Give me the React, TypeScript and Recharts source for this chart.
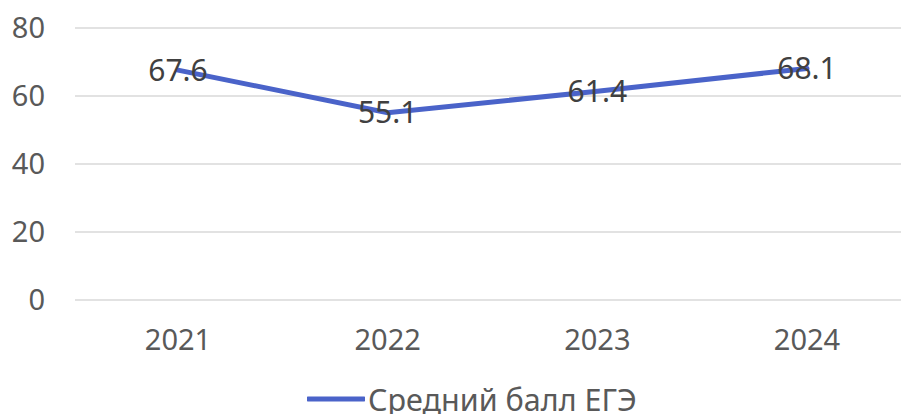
import { CartesianGrid, LabelList, Legend, Line, LineChart, XAxis, YAxis } from 'recharts'

const YEARS = ['2021', '2022', '2023', '2024']
const AVG_SCORE = [67.6, 55.1, 61.4, 68.1]
const Y_TICKS = [0, 20, 40, 60, 80]
const SERIES_NAME = 'Средний балл ЕГЭ'

const FONT = '"Noto Sans", sans-serif'
const LINE_COLOR = '#4a63c9'

const data = YEARS.map((year, i) => ({ year, score: AVG_SCORE[i] }))

function LegendBox() {
  return (
    <div style={{ display: 'flex', alignItems: 'center', height: 36, paddingLeft: 307, marginTop: 3, fontFamily: FONT }}>
      <svg width={58} height={10}>
        <line x1={1} y1={5} x2={57} y2={5} stroke={LINE_COLOR} strokeWidth={5} strokeLinecap="round" />
      </svg>
      <span style={{ fontSize: 30.5, color: '#595959', marginLeft: 3, lineHeight: '36px', whiteSpace: 'nowrap' }}>
        {SERIES_NAME}
      </span>
    </div>
  )
}

export default function App() {
  return (
    <div style={{ position: 'fixed', left: 0, top: 0, width: 901, height: 414, overflow: 'hidden', background: '#fff' }}>
      <LineChart width={915} height={414} data={data} margin={{ top: 28, right: 5, bottom: 0, left: 0 }}>
        <CartesianGrid vertical={false} stroke="#d9d9d9" strokeWidth={1.5} />
        <XAxis
          dataKey="year"
          height={78}
          padding={{ left: 103, right: 103 }}
          axisLine={false}
          tickLine={false}
          tickSize={0}
          tickMargin={29}
          tick={{ fill: '#595959', fontSize: 29, fontFamily: FONT }}
        />
        <YAxis
          width={75}
          domain={[0, 80]}
          ticks={Y_TICKS}
          axisLine={false}
          tickLine={false}
          tickSize={0}
          tickMargin={30}
          tick={{ fill: '#595959', fontSize: 29, fontFamily: FONT }}
        />
        <Legend verticalAlign="bottom" height={36} content={() => <LegendBox />} />
        <Line
          dataKey="score"
          name={SERIES_NAME}
          stroke={LINE_COLOR}
          strokeWidth={5}
          strokeLinecap="round"
          dot={false}
          isAnimationActive={false}
        >
          <LabelList dataKey="score" position="center" fill="#404040" fontSize={30} fontFamily={FONT} />
        </Line>
      </LineChart>
    </div>
  )
}
